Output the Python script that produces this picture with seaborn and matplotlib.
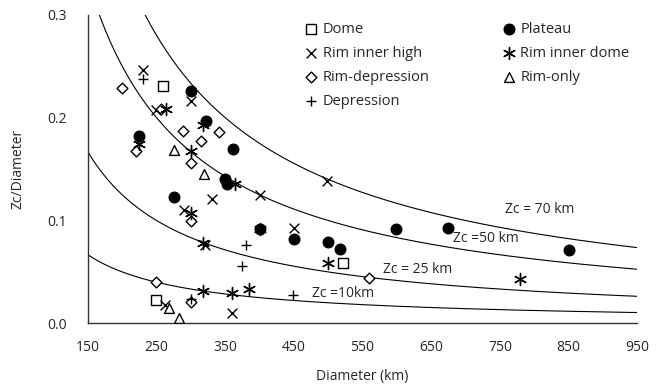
import numpy as np
import pandas as pd
import matplotlib
matplotlib.use("Agg")
import matplotlib.pyplot as plt
import seaborn as sns

# crater groups: diameter (km) and Zc/Diameter
dome_d = [260, 522, 249]
dome_y = [0.231, 0.059, 0.023]

plateau_d = [300, 322, 362, 225, 275, 350, 352, 400, 450, 500, 517, 599, 675, 850]
plateau_y = [0.226, 0.197, 0.170, 0.182, 0.123, 0.140, 0.136, 0.092, 0.082, 0.079, 0.072, 0.092, 0.093, 0.071]

rim_high_d = [230, 300, 249, 290, 330, 400, 498, 450, 320, 360, 262]
rim_high_y = [0.246, 0.216, 0.207, 0.110, 0.121, 0.125, 0.138, 0.093, 0.076, 0.010, 0.018]

rim_dome_d = [264, 318, 300, 300, 364, 400, 318, 499, 779, 318, 360, 385, 224]
rim_dome_y = [0.208, 0.193, 0.168, 0.107, 0.136, 0.092, 0.078, 0.059, 0.043, 0.031, 0.030, 0.033, 0.174]

rim_dep_d = [200, 256, 288, 341, 315, 220, 300, 300, 560, 249, 300]
rim_dep_y = [0.229, 0.208, 0.187, 0.186, 0.177, 0.168, 0.156, 0.100, 0.044, 0.040, 0.021]

rim_only_d = [275, 319, 268, 283]
rim_only_y = [0.169, 0.145, 0.015, 0.005]

dep_d = [230, 380, 375, 449, 300]
dep_y = [0.238, 0.076, 0.056, 0.028, 0.024]

zc_levels = [70, 50, 25, 10]
zc_labels = ["Zc = 70 km", "Zc =50 km", "Zc = 25 km", "Zc =10km"]
zc_label_pos = [(758, 0.111), (682, 0.083), (580, 0.052), (477, 0.0295)]

groups = [
    ("Dome", dome_d, dome_y, "s", False, 55),
    ("Rim inner high", rim_high_d, rim_high_y, "x", True, 50),
    ("Rim-depression", rim_dep_d, rim_dep_y, "D", False, 30),
    ("Depression", dep_d, dep_y, "+", True, 60),
    ("Plateau", plateau_d, plateau_y, "o", True, 58),
    ("Rim inner dome", rim_dome_d, rim_dome_y, (6, 2, 0), True, 75),
    ("Rim-only", rim_only_d, rim_only_y, "^", False, 50),
]

sns.set_style("white")
plt.rcParams["font.family"] = ["Open Sans", "DejaVu Sans"]

fig = plt.figure(figsize=(6.61, 3.91), dpi=100)
ax = fig.add_axes([0.133, 0.173, 0.831, 0.789])

# Zc / D curves
dd = np.linspace(150, 950, 400)
for zc in zc_levels:
    sns.lineplot(x=dd, y=zc / dd, ax=ax, color="black", lw=0.8, legend=False)

for name, xs, ys, mk, filled, size in groups:
    df = pd.DataFrame({"d": xs, "r": ys})
    if filled:
        sns.scatterplot(data=df, x="d", y="r", ax=ax, marker=mk, s=size,
                        color="black", edgecolor="black", linewidth=1.0,
                        label=name, zorder=3)
    else:
        sns.scatterplot(data=df, x="d", y="r", ax=ax, marker=mk, s=size,
                        facecolor="white", edgecolor="black", linewidth=1.0,
                        label=name, zorder=3)

for txt, (px, py) in zip(zc_labels, zc_label_pos):
    ax.text(px, py, txt, fontsize=10, va="center", ha="left")

ax.set_xlim(150, 950)
ax.set_ylim(0, 0.3)
ax.set_xticks(range(150, 951, 100))
ax.set_yticks([0.0, 0.1, 0.2, 0.3])
ax.set_yticklabels(["0.0", "0.1", "0.2", "0.3"])
ax.set_xlabel("Diameter (km)", fontsize=10, labelpad=10)
ax.set_ylabel("Zc/Diameter", fontsize=10, labelpad=16)
ax.tick_params(direction="in", length=4, width=0.8, labelsize=10, color="#444444")
ax.tick_params(axis="x", pad=12)
ax.tick_params(axis="y", pad=15)
for s in ["top", "right"]:
    ax.spines[s].set_visible(False)
for s in ["left", "bottom"]:
    ax.spines[s].set_color("#333333")
    ax.spines[s].set_linewidth(1.0)

h, l = ax.get_legend_handles_labels()
ax.legend(h, l, ncol=2, loc="upper left", bbox_to_anchor=(0.449, 0.962),
          bbox_transform=fig.transFigure, frameon=False, fontsize=10.5,
          handlelength=1.0, handletextpad=0.3, labelspacing=0.62,
          columnspacing=4.9, borderpad=0)

fig.savefig("out.png", dpi=100)
